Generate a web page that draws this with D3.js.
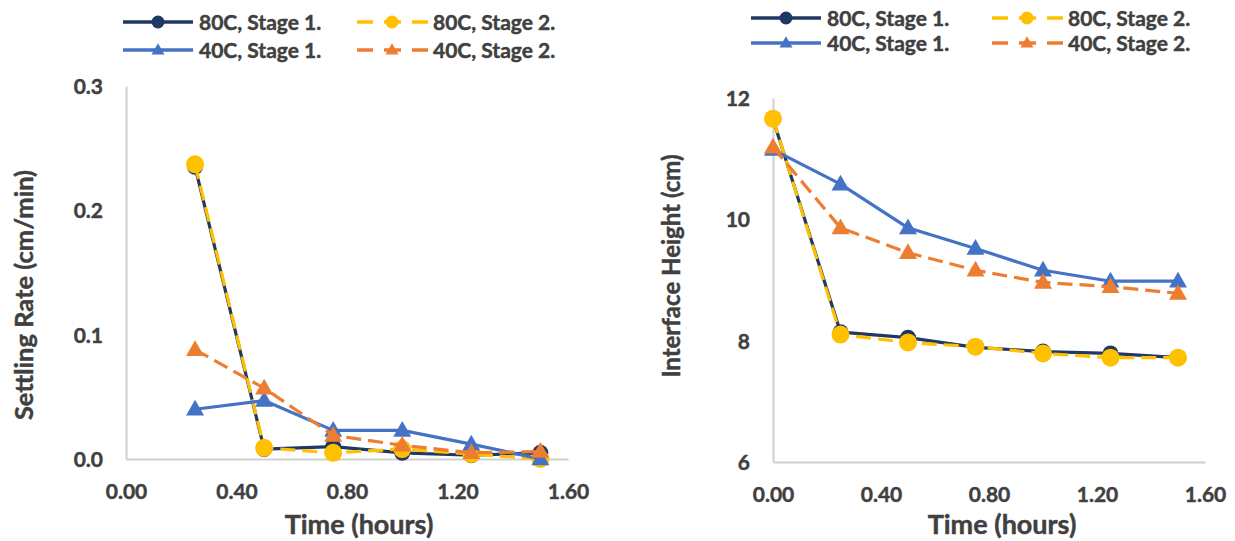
<!DOCTYPE html>
<html><head><meta charset="utf-8">
<script src="https://cdn.jsdelivr.net/npm/d3@7"></script>
<style>
html,body{margin:0;padding:0;background:#fff;}
svg{display:block;font-family:Lato,"Open Sans",sans-serif;font-weight:bold;}
svg text{stroke:#404040;stroke-width:0.45px;}
</style></head>
<body>
<svg id="c" width="1235" height="541"></svg>
<script>
// ---------- data ----------
const seriesNames = ["80C, Stage 1.", "80C, Stage 2.", "40C, Stage 1.", "40C, Stage 2."];
const timeRate = [0.25, 0.5, 0.75, 1.0, 1.25, 1.5];
const rate80S1 = [0.235, 0.008, 0.010, 0.005, 0.003, 0.005];
const rate80S2 = [0.237, 0.009, 0.005, 0.008, 0.004, 0.000];
const rate40S1 = [0.040, 0.047, 0.023, 0.023, 0.012, 0.000];
const rate40S2 = [0.088, 0.057, 0.019, 0.011, 0.005, 0.006];

const timeHeight = [0, 0.25, 0.5, 0.75, 1.0, 1.25, 1.5];
const h80S1 = [11.65, 8.14, 8.05, 7.89, 7.82, 7.79, 7.72];
const h80S2 = [11.66, 8.10, 7.97, 7.90, 7.79, 7.72, 7.72];
const h40S1 = [11.15, 10.58, 9.86, 9.52, 9.16, 8.98, 8.98];
const h40S2 = [11.19, 9.86, 9.45, 9.16, 8.96, 8.89, 8.78];

const xTicks = [0, 0.4, 0.8, 1.2, 1.6];
const rateTicks = [0, 0.1, 0.2, 0.3];
const heightTicks = [6, 8, 10, 12];

// ---------- styles ----------
const styles = [
  {color:"#203864", dash:null, marker:"circle", r:8},
  {color:"#FFC000", dash:"15,7", marker:"circle", r:9},
  {color:"#4472C4", dash:null, marker:"triangle", r:9},
  {color:"#ED7D31", dash:"15,7", marker:"triangle", r:9}
];
const textColor = "#404040";
const axisColor = "#D0D0D0";

const svg = d3.select("#c");

function marker(g, type, x, y, size, color){
  if(type==="circle"){
    g.append("circle").attr("cx",x).attr("cy",y).attr("r",size).attr("fill",color);
  } else {
    const h = size*1.75, w = size*2;
    g.append("path")
      .attr("d",`M${x},${y-h*0.6}L${x+w/2},${y+h*0.4}L${x-w/2},${y+h*0.4}Z`)
      .attr("fill",color);
  }
}

function drawChart(cfg){
  const g = svg.append("g");
  const x = d3.scaleLinear().domain([0,1.6]).range([cfg.x0, cfg.x1]);
  const y = d3.scaleLinear().domain(cfg.yDomain).range([cfg.y0, cfg.y1]);

  // axes
  const xa = g.append("g").attr("transform",`translate(0,${cfg.y0})`)
    .call(d3.axisBottom(x).tickValues(xTicks).tickFormat(d3.format(".2f")).tickSize(0).tickPadding(25));
  const ya = g.append("g").attr("transform",`translate(${cfg.x0},0)`)
    .call(d3.axisLeft(y).tickValues(cfg.yTicks).tickFormat(cfg.yFormat).tickSize(0).tickPadding(23));
  [xa,ya].forEach(a=>{
    a.select(".domain").attr("stroke",axisColor).attr("stroke-width",2);
    a.selectAll("text").attr("fill",textColor).style("font-size","21px").style("font-weight","bold")
      .style("font-family","Lato");
  });
  ya.selectAll("text").attr("dy","0.35em");

  // titles
  g.append("text").attr("x",cfg.xTitleX).attr("y",cfg.xTitleY).attr("text-anchor","middle")
    .attr("fill",textColor).style("font-size","27px").text("Time (hours)");
  g.append("text").attr("transform",`translate(${cfg.yTitleX},${cfg.yTitleY}) rotate(-90)`)
    .attr("text-anchor","middle").attr("fill",textColor).style("font-size",cfg.yTitleSize+"px").text(cfg.yTitle);

  // series
  const line = d3.line().x(d=>x(d[0])).y(d=>y(d[1]));
  cfg.series.forEach((vals,i)=>{
    const st = styles[i];
    const pts = cfg.times.map((t,k)=>[t, vals[k]]);
    g.append("path").datum(pts).attr("d",line).attr("fill","none")
      .attr("stroke",st.color).attr("stroke-width",3.2)
      .attr("stroke-dasharray",st.dash).attr("stroke-linejoin","round");
    pts.forEach(p=>marker(g, st.marker, x(p[0]), y(p[1]), st.r, st.color));
  });

  // legend
  const L = cfg.legend;
  seriesNames.forEach((name,i)=>{
    const st = styles[i];
    const col = i%2, row = Math.floor(i/2);
    const lx = L.cols[col], ly = L.rows[row];
    if(!st.dash){
      g.append("line").attr("x1",lx).attr("x2",lx+70).attr("y1",ly).attr("y2",ly)
        .attr("stroke",st.color).attr("stroke-width",3.5);
    } else {
      [[0,16],[55,71],[27,44]].forEach(s=>{
        g.append("line").attr("x1",lx+s[0]).attr("x2",lx+s[1]).attr("y1",ly).attr("y2",ly)
          .attr("stroke",st.color).attr("stroke-width",3.5);
      });
    }
    marker(g, st.marker, lx+35, ly, 6.5, st.color);
    g.append("text").attr("x",lx+76).attr("y",ly).attr("dy","0.36em")
      .attr("fill",textColor).style("font-size","21px").text(name);
  });
}

drawChart({
  x0:126, x1:568, y0:459, y1:86, yDomain:[0,0.3], yTicks:rateTicks, yFormat:d3.format(".1f"),
  xTitleX:359, xTitleY:534, yTitleX:33, yTitleY:295, yTitleSize:25.5, yTitle:"Settling Rate (cm/min)",
  times:timeRate, series:[rate80S1, rate80S2, rate40S1, rate40S2],
  legend:{cols:[123,357], rows:[22,50]}
});
drawChart({
  x0:773, x1:1205, y0:462, y1:98, yDomain:[6,12], yTicks:heightTicks, yFormat:d3.format("d"),
  xTitleX:1002, xTitleY:534, yTitleX:680, yTitleY:266, yTitleSize:24, yTitle:"Interface Height (cm)",
  times:timeHeight, series:[h80S1, h80S2, h40S1, h40S2],
  legend:{cols:[751,992], rows:[18,43]}
});
</script>
</body></html>
